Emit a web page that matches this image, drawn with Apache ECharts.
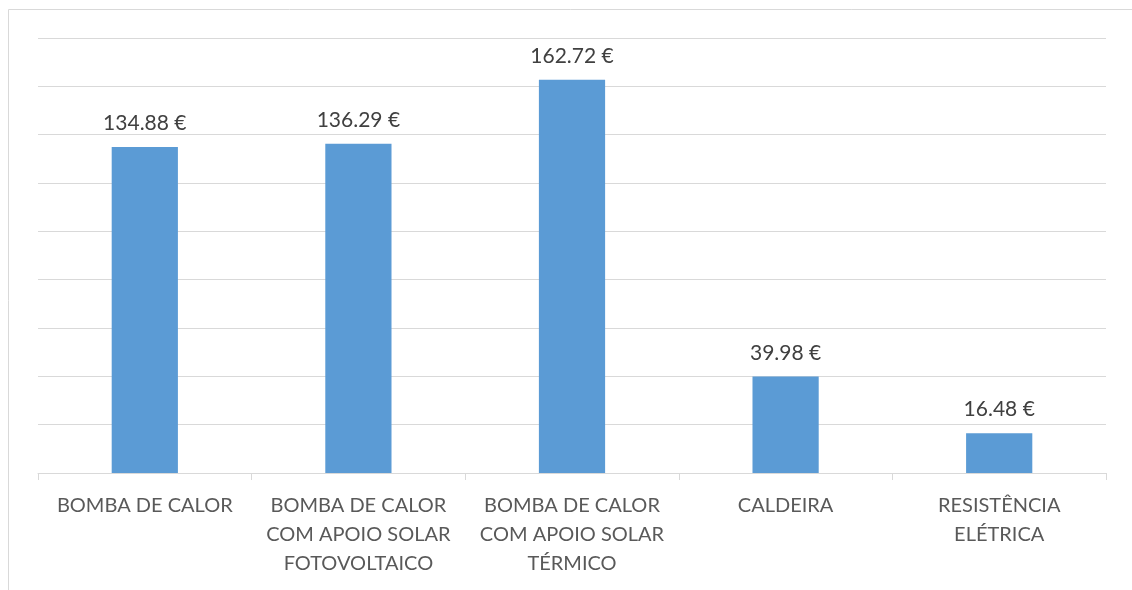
<!DOCTYPE html>
<html><head><meta charset="utf-8">
<script src="https://cdn.jsdelivr.net/npm/echarts@6/dist/echarts.min.js"></script>
<style>html,body{margin:0;padding:0;background:#fff}#c{width:1132px;height:590px}</style>
</head><body><div id="c"></div>
<script>
const categories = ['BOMBA DE CALOR', 'BOMBA DE CALOR\nCOM APOIO SOLAR\nFOTOVOLTAICO', 'BOMBA DE CALOR\nCOM APOIO SOLAR\nTÉRMICO', 'CALDEIRA', 'RESISTÊNCIA\nELÉTRICA'];
const values = [134.88, 136.29, 162.72, 39.98, 16.48];
const FONT = 'Lato';
const chart = echarts.init(document.getElementById('c'));
chart.setOption({
  animation: false,
  graphic: [{type:'rect', shape:{x:8.5,y:9.5,width:1130,height:600}, style:{fill:'none',stroke:'#d9d9d9',lineWidth:1}, z:-1}],
  grid: {left:38, right:26, top:38, bottom:117},
  xAxis: {type:'category', data:categories, boundaryGap:true,
    axisLine:{lineStyle:{color:'#d9d9d9',width:1}},
    axisTick:{show:true,length:7,lineStyle:{color:'#d9d9d9'}},
    axisLabel:{color:'#595959',fontFamily:FONT,fontSize:20,lineHeight:29,margin:18,interval:0}},
  yAxis: {type:'value', min:0, max:180, interval:20,
    axisLabel:{show:false}, axisLine:{show:false}, axisTick:{show:false},
    splitLine:{lineStyle:{color:'#d9d9d9',width:1}}},
  series: [{type:'bar', data:values, barWidth:'31%', itemStyle:{color:'#5B9BD5'},
    label:{show:true, position:'top', distance:13, color:'#404040', fontFamily:FONT, fontSize:21,
      formatter: p => p.value.toFixed(2) + ' €'}}]
});
</script></body></html>
